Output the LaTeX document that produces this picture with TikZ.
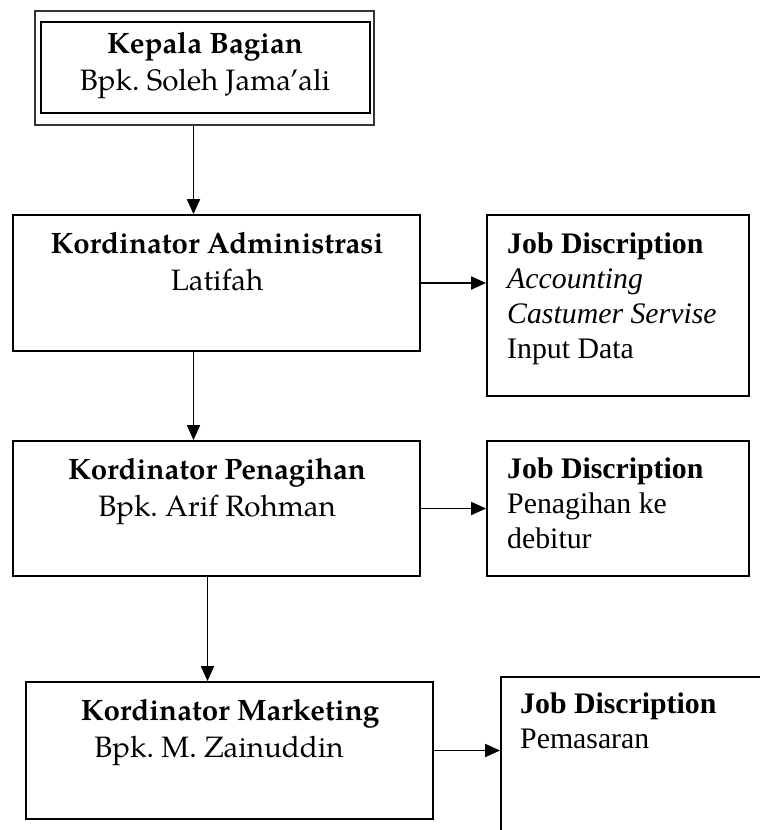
\documentclass[tikz,border=0pt]{standalone}
\usepackage{fontspec}
\setmainfont{Liberation Serif}
\newfontfamily\pal{TeX Gyre Pagella}
\usetikzlibrary{arrows.meta}
\frenchspacing
\tikzset{
  box/.style={draw, line width=1.8pt, rectangle, inner sep=0pt},
  arr/.style={draw, line width=1.8pt, -{Triangle[length=15pt,width=13pt]}},
  lt/.style={anchor=base, inner sep=0pt, font=\pal\fontsize{29.5}{36}\selectfont},
  ltb/.style={lt, font=\pal\bfseries\fontsize{29.5}{36}\selectfont},
  rt/.style={anchor=base west, inner sep=0pt, font=\fontsize{29.8}{35}\selectfont},
  rtb/.style={rt, font=\bfseries\fontsize{29.8}{35}\selectfont},
  rti/.style={rt, font=\itshape\fontsize{29.8}{35}\selectfont}
}
\begin{document}
\begin{tikzpicture}[x=1pt,y=-1pt]
\useasboundingbox (0,0) rectangle (760,830);
\clip (0,0) rectangle (760,830);
% Kepala Bagian (double frame)
\node[box, line width=1.2pt, draw=black!80, minimum width=339pt, minimum height=114pt] (b1) at (204.5,68) {};
\node[box, line width=2.5pt, minimum width=329pt, minimum height=91pt] (b1i) at (205.5,67.5) {};
\node[ltb] (t1a) at (205,53) {Kepala Bagian};
\node[lt] (t1b) at (205,90) {Bpk. Soleh Jama’ali};
% Kordinator Administrasi
\node[box, minimum width=407pt, minimum height=136pt] (b2) at (216.5,283) {};
\node[ltb] (t2a) at (217,253) {Kordinator Administrasi};
\node[lt] (t2b) at (217,290) {Latifah};
% Job 1
\node[box, minimum width=262pt, minimum height=181pt] (j1) at (618,305.5) {};
\node[rtb] (j1a) at (507,253) {Job Discription};
\node[rti] (j1b) at (507,288) {Accounting};
\node[rti] (j1c) at (507,323) {Castumer Servise};
\node[rt] (j1d) at (507,358) {Input Data};
% Kordinator Penagihan
\node[box, minimum width=407pt, minimum height=135pt] (b3) at (216.5,508.5) {};
\node[ltb] (t3a) at (217,479) {Kordinator Penagihan};
\node[lt] (t3b) at (217,516) {Bpk. Arif Rohman};
% Job 2
\node[box, minimum width=262pt, minimum height=135pt] (j2) at (618,508.5) {};
\node[rtb] (j2a) at (507,478) {Job Discription};
\node[rt] (j2b) at (507,513) {Penagihan ke};
\node[rt] (j2c) at (507,548) {debitur};
% Kordinator Marketing
\node[box, minimum width=407pt, minimum height=137pt] (b4) at (229.5,750.5) {};
\node[ltb] (t4a) at (230,720) {Kordinator Marketing};
\node[lt] (t4b) at (219,757) {Bpk. M. Zainuddin};
% Job 3 (cut off at right and bottom)
\node[box, minimum width=300pt, minimum height=200pt] (j3) at (651,777) {};
\node[rtb] (j3a) at (520,713) {Job Discription};
\node[rt] (j3b) at (520,748) {Pemasaran};
% connectors
\draw[arr] ([xshift=-11pt]b1.south) -- ([xshift=-11pt]b1.south |- b2.north);
\draw[arr] ([xshift=-23pt]b2.south) -- ([xshift=-23pt]b2.south |- b3.north);
\draw[arr] ([xshift=-9pt]b3.south) -- ([xshift=-9pt]b3.south |- b4.north);
\draw[arr] (b2.east) -- (b2.east -| j1.west);
\draw[arr] (b3.east) -- (b3.east -| j2.west);
\draw[arr] (b4.east) -- (b4.east -| j3.west);
\end{tikzpicture}
\end{document}
